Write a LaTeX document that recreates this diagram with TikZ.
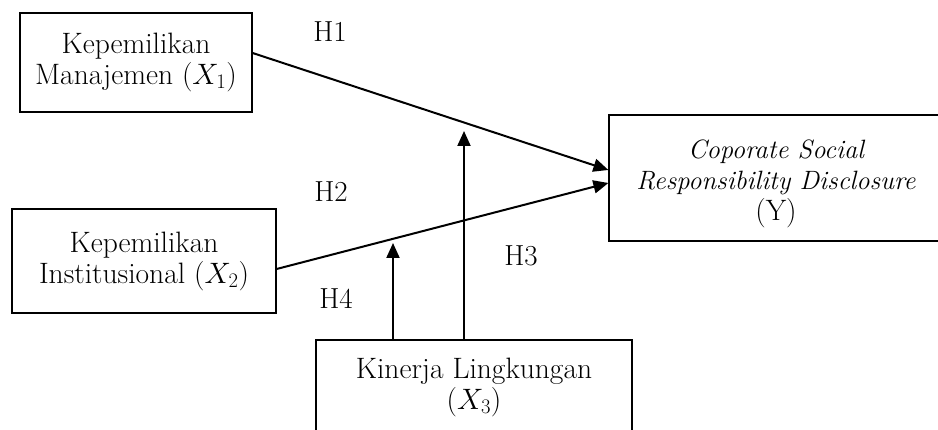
\RequirePackage{fix-cm}
\documentclass[tikz,border=0pt]{standalone}
\usetikzlibrary{arrows.meta}
\tikzset{
  box/.style={draw=black, line width=1.2pt, rectangle, align=center, inner sep=0pt,
              font=\fontsize{29.5}{31}\selectfont},
  lab/.style={font=\fontsize{29}{31}\selectfont, inner sep=0pt},
  arr/.style={line width=2pt, -{Triangle[length=15pt,width=13pt]}},
}
\begin{document}
\begin{tikzpicture}[x=1pt,y=-1pt]
\useasboundingbox (0,0) rectangle (938,430);
\node[box, minimum width=232, minimum height=99] (x1) at (136,62.5)
  {Kepemilikan\\Manajemen ($X_1$)};
\node[box, minimum width=264, minimum height=104] (x2) at (144,261)
  {Kepemilikan\\Institusional ($X_2$)};
\node[box, minimum width=334, minimum height=126] (y) at (776,178)
  {\rule{0pt}{30pt}{\fontsize{26.5}{31}\selectfont\itshape Coporate Social}\\{\fontsize{26.5}{31}\selectfont\itshape Responsibility Disclosure}\\(Y)};
\node[box, minimum width=316, minimum height=94] (x3) at (474,387)
  {Kinerja Lingkungan\\($X_3$)};
\node[lab] (h1) at (330,32) {H1};
\node[lab] (h2) at (331,192) {H2};
\node[lab] (h3) at (521,256) {H3};
\node[lab] (h4) at (336,299) {H4};
\coordinate (t3) at (464,131);
\coordinate (t4) at (393,243);
\draw[arr] ([yshift=9.5pt]x1.east) -- ([yshift=8pt]y.west);
\draw[arr] ([yshift=-8pt]x2.east) -- ([yshift=-5pt]y.west);
\draw[arr] ([xshift=-10pt]x3.north) -- (t3);
\draw[arr] ([xshift=-81pt]x3.north) -- (t4);
\end{tikzpicture}
\end{document}
